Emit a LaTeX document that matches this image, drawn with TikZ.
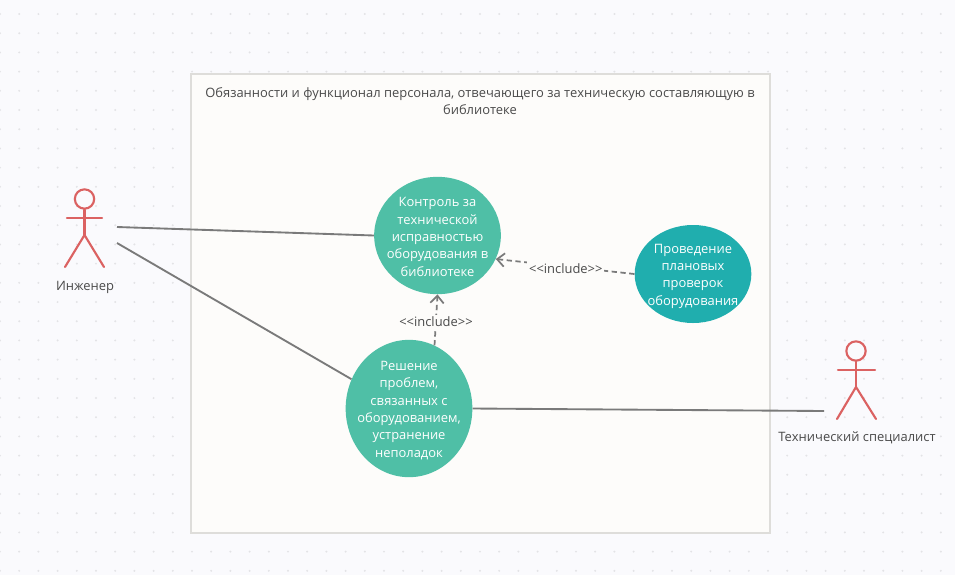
\documentclass[tikz,border=0pt]{standalone}
\usepackage{fontspec}
\setmainfont{Open Sans}
\usetikzlibrary{shapes.geometric,arrows.meta}
\definecolor{bgc}{HTML}{FAFAFD}
\definecolor{dotc}{HTML}{E3E3E6}
\definecolor{framec}{HTML}{DEDDDA}
\definecolor{framefill}{HTML}{FDFCFA}
\definecolor{ucgreen}{HTML}{4FBFA6}
\definecolor{ucteal}{HTML}{20AEAE}
\definecolor{actorc}{HTML}{DB6262}
\definecolor{linec}{HTML}{7A7A7A}
\definecolor{textc}{HTML}{4A4A4A}
\tikzset{
  usecase/.style={ellipse,inner sep=0pt},
  uctext/.style={text=white,align=center,inner sep=0pt,font=\fontsize{9.7}{13}\selectfont},
  actorline/.style={draw=actorc,line width=1.6pt,line cap=round},
  caption/.style={text=textc,font=\fontsize{9.7}{13.2}\selectfont,align=center,inner sep=0pt},
  assoc/.style={draw=linec,line width=1.4pt},
  incl/.style={draw=linec,line width=1.3pt,dashed,dash pattern=on 4pt off 2.6pt,-{Straight Barb[length=5.5pt,width=10pt,line width=1.3pt]}},
  incllabel/.style={fill=framefill,text=textc,inner sep=1.5pt,yshift=-0.8pt,font=\fontsize{9.7}{12}\selectfont},
}
\begin{document}
\begin{tikzpicture}[x=0.75pt,y=-0.75pt]
\useasboundingbox (0,0) rectangle (955,575);
\fill[bgc] (0,0) rectangle (955,575);
\foreach \i in {0,...,49}{\foreach \j in {0,...,29}{
  \fill[dotc] ({\i*19.2},{14+\j*19.2}) circle (1.1);
}}
\node[draw=framec,line width=1.9pt,fill=framefill,minimum width=434pt,minimum height=344pt,inner sep=0pt] (frame) at (480.5,303.5) {};
\node[caption] (title) at (480,101) {Обязанности и функционал персонала, отвечающего за техническую составляющую в\\библиотеке};
% actors
\node[circle,draw=actorc,line width=1.6pt,minimum size=14.5pt,inner sep=0pt] (head1) at (84.5,199) {};
\coordinate (hip1) at (84.5,235);
\draw[actorline] (head1) -- (hip1);
\draw[actorline] (67,218) -- (102,218);
\draw[actorline] (65,267) -- (hip1) -- (104,267);
\node[caption] (eng) at (85,287) {Инженер};
\node[circle,draw=actorc,line width=1.6pt,minimum size=14.5pt,inner sep=0pt] (head2) at (856,351) {};
\coordinate (hip2) at (856,387);
\draw[actorline] (head2) -- (hip2);
\draw[actorline] (838,370) -- (875,370);
\draw[actorline] (837,419) -- (hip2) -- (876,419);
\node[caption] (tech) at (857,438) {Технический специалист};
% use cases
\node[usecase,fill=ucgreen,minimum width=95pt,minimum height=88pt,label={[uctext,yshift=-1.1pt]center:{Контроль за\\технической\\исправностью\\оборудования в\\библиотеке}}] (ctrl) at (437.5,235.5) {};
\node[usecase,fill=ucgreen,minimum width=95pt,minimum height=103pt,label={[uctext,yshift=-1.5pt]center:{Решение\\проблем,\\связанных с\\оборудованием,\\устранение\\неполадок}}] (prob) at (409,408.5) {};
\node[usecase,fill=ucteal,minimum width=87.5pt,minimum height=73.5pt,label={[uctext,yshift=-1.5pt]center:{Проведение\\плановых\\проверок\\оборудования}}] (plan) at (693,274) {};
% connectors
\coordinate (e1) at (117,227);
\coordinate (e2) at (117,243);
\coordinate (t1) at (824,411);
\draw[assoc] (e1) -- (ctrl.west);
\draw[assoc] (e2) -- (prob.153);
\draw[assoc] (prob.east) -- (t1);
\draw[incl] (plan.west) -- node[incllabel,pos=0.495,yshift=-0.6pt] (l1) {<{}<include>{}>} (ctrl.-22);
\draw[incl] (prob.68) -- node[incllabel,pos=0.49] (l2) {<{}<include>{}>} (ctrl.south);
\end{tikzpicture}
\end{document}
